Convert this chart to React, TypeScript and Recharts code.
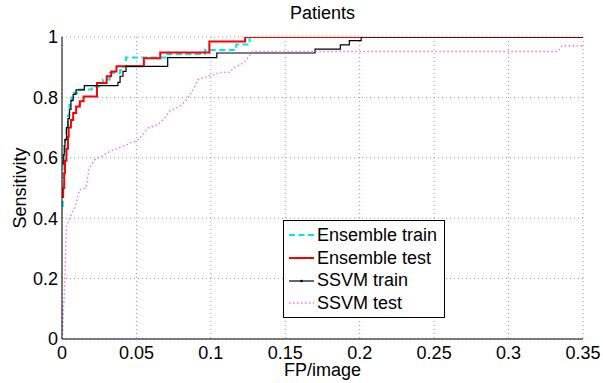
import { LineChart, Line, XAxis, YAxis, CartesianGrid } from "recharts"

const xTicks = [0, 0.05, 0.1, 0.15, 0.2, 0.25, 0.3, 0.35]
const yTicks = [0, 0.2, 0.4, 0.6, 0.8, 1]

// [FP/image, sensitivity]
const ensembleTrain = [
  [0, 0.44], [0.0005, 0.5], [0.001, 0.56], [0.0015, 0.62], [0.002, 0.66],
  [0.003, 0.7], [0.004, 0.74], [0.005, 0.776], [0.0065, 0.8], [0.008, 0.815],
  [0.011, 0.826], [0.02, 0.836], [0.026, 0.848], [0.0275, 0.859], [0.032, 0.881],
  [0.039, 0.89], [0.041, 0.903], [0.043, 0.932], [0.07, 0.944], [0.096, 0.957],
  [0.117, 0.975], [0.126, 1], [0.35, 1],
]

const ensembleTest = [
  [0, 0.47], [0.0008, 0.5], [0.0015, 0.55], [0.002, 0.59], [0.003, 0.63],
  [0.004, 0.67], [0.0045, 0.7], [0.006, 0.725], [0.0075, 0.748], [0.0095, 0.77],
  [0.012, 0.787], [0.0145, 0.803], [0.0235, 0.848], [0.03, 0.87], [0.033, 0.886],
  [0.0366, 0.903], [0.055, 0.93], [0.066, 0.949], [0.099, 0.985], [0.123, 1],
  [0.35, 1],
]

const ssvmTrain = [
  [0, 0.58], [0.0008, 0.61], [0.0015, 0.64], [0.002, 0.66], [0.003, 0.7],
  [0.004, 0.73], [0.005, 0.76], [0.006, 0.79], [0.0075, 0.81], [0.0094, 0.825],
  [0.015, 0.839], [0.0376, 0.85], [0.039, 0.87], [0.041, 0.886], [0.043, 0.903],
  [0.071, 0.932], [0.104, 0.947], [0.17, 0.96], [0.187, 0.974], [0.193, 0.988],
  [0.201, 1], [0.35, 1],
]

const ssvmTest = [
  [0, 0], [0.0005, 0.03], [0.001, 0.1], [0.0015, 0.14], [0.002, 0.207],
  [0.0025, 0.307], [0.003, 0.373], [0.006, 0.41], [0.009, 0.44], [0.0117, 0.494],
  [0.016, 0.5], [0.017, 0.527], [0.018, 0.56], [0.02, 0.58], [0.023, 0.599],
  [0.027, 0.605], [0.03, 0.616], [0.035, 0.627], [0.041, 0.638], [0.0466, 0.651],
  [0.05, 0.655], [0.0534, 0.671], [0.058, 0.699], [0.0645, 0.71], [0.069, 0.732],
  [0.072, 0.754], [0.079, 0.77], [0.0836, 0.792], [0.088, 0.825], [0.0914, 0.859],
  [0.098, 0.87], [0.102, 0.875], [0.106, 0.883], [0.113, 0.883], [0.115, 0.897],
  [0.12, 0.908], [0.124, 0.925], [0.128, 0.952], [0.333, 0.952], [0.336, 0.971],
  [0.35, 0.971],
]

const toPoints = (rows: number[][]) => rows.map(([x, y]) => ({ x, y }))

const series = [
  { name: "Ensemble train", rows: ensembleTrain, color: "#00e5ee", width: 2, dash: "6 3.5", type: "stepAfter" },
  { name: "Ensemble test", rows: ensembleTest, color: "#ff0000", width: 2, dash: undefined, type: "stepAfter" },
  { name: "SSVM train", rows: ssvmTrain, color: "#000000", width: 1.2, dash: undefined, type: "stepAfter" },
  { name: "SSVM test", rows: ssvmTest, color: "#f070f0", width: 1.4, dash: "1.5 2.5", type: "linear" },
] as const

const FONT = "'Liberation Sans', Arial, Helvetica, sans-serif"
const FS = 18

function LegendBox() {
  return (
    <div
      style={{
        position: "absolute",
        left: 283,
        top: 220,
        width: 162,
        height: 98,
        border: "1px solid #000",
        background: "#fff",
        boxSizing: "border-box",
        paddingTop: 3,
      }}
    >
      {series.map((s) => (
        <div key={s.name} style={{ display: "flex", alignItems: "center", height: 22.7, fontSize: FS }}>
          <svg width={29} height={10} style={{ marginLeft: 4 }}>
            <line x1={1} x2={26} y1={5} y2={5} stroke={s.color} strokeWidth={s.width} strokeDasharray={s.dash} />
            {s.name === "SSVM train" && <circle cx={13.5} cy={5} r={1.3} fill="#000" />}
          </svg>
          <span>{s.name}</span>
        </div>
      ))}
    </div>
  )
}

export default function App() {
  return (
    <div style={{ position: "relative", width: 603, height: 383, fontFamily: FONT, background: "#fff" }}>
      <style>{"body{margin:0}"}</style>
      <div style={{ position: "absolute", left: 62, width: 521, top: 3, textAlign: "center", fontSize: FS }}>
        Patients
      </div>
      <LineChart width={603} height={383} margin={{ top: 37, right: 20, bottom: 0, left: 0 }}>
        <CartesianGrid stroke="#999" strokeDasharray="1 3" />
        <XAxis
          xAxisId="ib"
          dataKey="x"
          type="number"
          domain={[0, 0.35]}
          ticks={xTicks}
          orientation="bottom"
          mirror
          height={0}
          axisLine={false}
          tick={false}
          tickSize={4}
          tickLine={{ stroke: "#000" }}
        />
        <XAxis
          dataKey="x"
          type="number"
          domain={[0, 0.35]}
          ticks={xTicks}
          allowDataOverflow
          height={44}
          tickLine={false}
          tickSize={0}
          tickMargin={7}
          axisLine={{ stroke: "#000" }}
          tick={{ fill: "#000", fontSize: FS }}
          label={{ value: "FP/image", position: "insideBottom", offset: 7, fill: "#000", fontSize: FS }}
        />
        <XAxis
          xAxisId="top"
          dataKey="x"
          type="number"
          domain={[0, 0.35]}
          ticks={xTicks}
          orientation="top"
          mirror
          height={0}
          tick={false}
          tickSize={4}
          tickLine={{ stroke: "#000" }}
          axisLine={{ stroke: "#000" }}
        />
        <YAxis
          yAxisId="il"
          type="number"
          domain={[0, 1]}
          ticks={yTicks}
          mirror
          width={0}
          axisLine={false}
          tick={false}
          tickSize={4}
          tickLine={{ stroke: "#000" }}
        />
        <YAxis
          type="number"
          domain={[0, 1]}
          ticks={yTicks}
          allowDataOverflow
          width={62}
          tickLine={false}
          tickSize={0}
          tickMargin={4}
          axisLine={{ stroke: "#000" }}
          tick={{ fill: "#000", fontSize: FS }}
          label={{
            value: "Sensitivity",
            content: ({ viewBox }: any) => {
              const cy = viewBox.y + viewBox.height / 2
              return (
                <text x={26} y={cy} transform={`rotate(-90, 26, ${cy})`} textAnchor="middle" fontSize={FS} fill="#000">
                  Sensitivity
                </text>
              )
            },
          }}
        />
        <YAxis
          yAxisId="right"
          type="number"
          domain={[0, 1]}
          ticks={yTicks}
          orientation="right"
          mirror
          width={0}
          tick={false}
          tickSize={4}
          tickLine={{ stroke: "#000" }}
          axisLine={{ stroke: "#000" }}
        />
        {series.map((s) => (
          <Line
            key={s.name}
            data={toPoints(s.rows as unknown as number[][])}
            dataKey="y"
            name={s.name}
            type={s.type}
            stroke={s.color}
            strokeWidth={s.width}
            strokeDasharray={s.dash}
            dot={false}
            activeDot={false}
            isAnimationActive={false}
          />
        ))}
      </LineChart>
      <LegendBox />
    </div>
  )
}
